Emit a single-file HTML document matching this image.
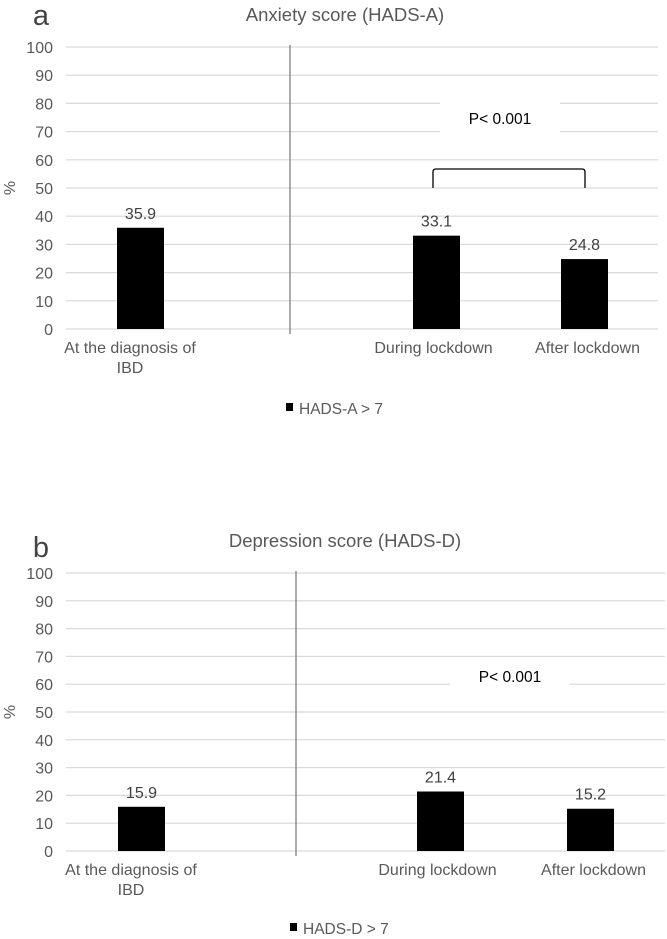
<!DOCTYPE html>
<html><head><meta charset="utf-8"><style>
html,body{margin:0;padding:0;background:#fff;width:667px;height:939px;overflow:hidden}
svg{display:block;font-family:"Liberation Sans",Arial,sans-serif}
</style></head><body>
<svg id="chart" width="667" height="939" viewBox="0 0 667 939"></svg>
<script>
const categories = ["At the diagnosis of|IBD", "During lockdown", "After lockdown"];
const anxietyValues = [35.9, 33.1, 24.8];
const depressionValues = [15.9, 21.4, 15.2];
const tickValues = [0,10,20,30,40,50,60,70,80,90,100];
const pLabelA = "P< 0.001";
const pLabelB = "P< 0.001";

const NS = "http://www.w3.org/2000/svg";
const svg = document.getElementById("chart");
function mk(tag, attrs, parent){
  const e = document.createElementNS(NS, tag);
  for (const k in attrs) e.setAttribute(k, attrs[k]);
  (parent||svg).appendChild(e);
  return e;
}
function txt(s, x, y, size, fill, anchor, parent){
  const t = mk("text", {x:x, y:y, "font-size":size, fill:fill, "text-anchor":anchor||"middle"}, parent);
  t.textContent = s;
  return t;
}

function panel(cfg){
  const g = mk("g", {});
  
  
  const yScale = v => cfg.y0 - (v/100)*(cfg.y0 - cfg.y100);
  const L = txt(cfg.letter, 41, cfg.letterY, 29, "#444", "middle", g);
  
  
  const T = txt(cfg.title, 345, cfg.titleY, 18.5, "#595959", "middle", g);
  
  
  tickValues.forEach(v => {
    const y = yScale(v);
    const ln = mk("line", {x1:66, x2:cfg.gridEnd, y1:y, y2:y, stroke:"#d9d9d9", "stroke-width":1.2}, g);
    
    
    const t = txt(String(v), 53, y+6, 16, "#595959", "end", g);
    
    
  });
  const yt = txt("%", 0, 0, 16, "#595959", "middle", g);
  yt.setAttribute("transform", `translate(15,${yScale(50)}) rotate(-90)`);
  
  
  const sep = mk("line", {x1:cfg.sepX, x2:cfg.sepX, y1:yScale(100)-2, y2:yScale(0)+5, stroke:"#7f7f7f", "stroke-width":1.3}, g);
  
  
  const pb = mk("rect", {x:cfg.pBox[0], y:cfg.pBox[1], width:120, height:cfg.pBox[2], fill:"#fff"}, g);
  
  
  const pt = txt(cfg.pLabel, cfg.pBox[0]+60, cfg.pTextY, 15.5, "#000", "middle", g);
  
  
  cfg.values.forEach((v, i) => {
    const x = cfg.barX[i], w = 47;
    const r = mk("rect", {x:x, y:yScale(v), width:w, height:yScale(0)-yScale(v), fill:"#000"}, g);
    
    
    const vl = txt(v.toFixed(1), x+w/2, yScale(v)-9, 16, "#404040", "middle", g);
    
    
    const lines = categories[i].split("|");
    lines.forEach((s, j) => {
      const cx = i === 0 ? cfg.barX[0]+13 : x+w/2 + (i===1?-3:3);
      const c = txt(s, cx, yScale(0)+cfg.catDy+j*20, 16, "#595959", "middle", g);
      
      
    });
  });
  if (cfg.bracket){
    const yb = 169, yl = yScale(50);
    const x1 = cfg.barX[1]+20, x2 = cfg.barX[2]+24;
    const p = mk("path", {d:`M${x1},${yl} L${x1},${yb+3} Q${x1},${yb} ${x1+3},${yb} L${x2-3},${yb} Q${x2},${yb} ${x2},${yb+3} L${x2},${yl}`, fill:"none", stroke:"#000", "stroke-width":1.3}, g);
    
    
  }
  const lg = mk("g", {}, g);
  
  
  mk("rect", {x:cfg.legX, y:cfg.legY-11, width:7, height:8, fill:"#000"}, lg);
  txt(cfg.legend, cfg.legX+13, cfg.legY, 15.5, "#595959", "start", lg);
}

panel({name:"anxiety-chart", letter:"a", letterY:25, title:"Anxiety score (HADS-A)", titleY:21,
  y0:329, y100:47, gridEnd:658, sepX:290, values:anxietyValues, barX:[117,413,561],
  pBox:[440,95,45], pLabel:pLabelA, pTextY:124, bracket:true, catDy:24,
  legX:286, legY:414, legend:"HADS-A > 7"});
panel({name:"depression-chart", letter:"b", letterY:557, title:"Depression score (HADS-D)", titleY:547,
  y0:851, y100:573, gridEnd:665, sepX:296, values:depressionValues, barX:[118,417,567],
  pBox:[450,657,42], pLabel:pLabelB, pTextY:682, bracket:false, catDy:24,
  legX:290, legY:934, legend:"HADS-D > 7"});
</script>
</body></html>
